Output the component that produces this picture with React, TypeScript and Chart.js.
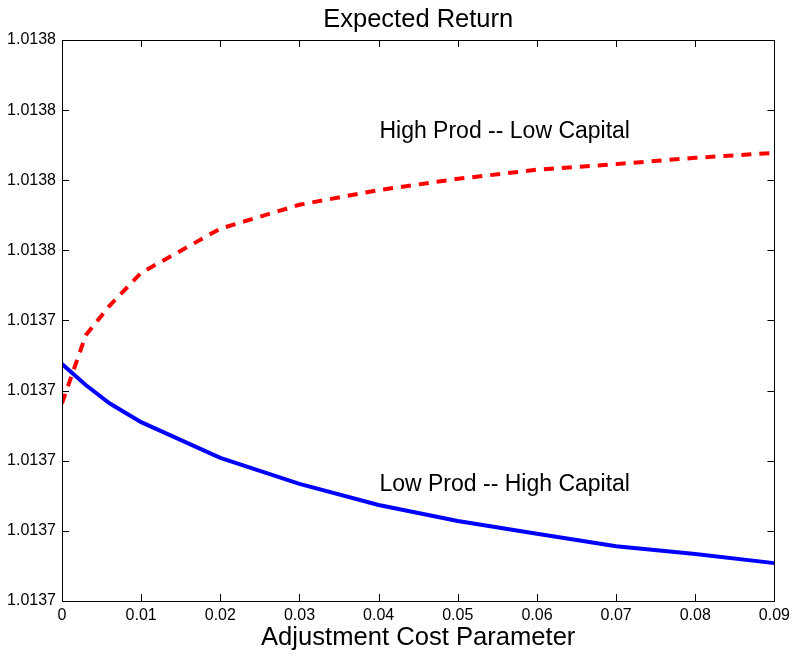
import React, { useEffect, useRef } from "react";
import { Chart, registerables } from "chart.js";

Chart.register(...registerables);

// ---- data ----
const xValues = [0, 0.003, 0.006, 0.01, 0.02, 0.03, 0.04, 0.05, 0.06, 0.07, 0.08, 0.09];
const highProdLowCapital = [
  1.0137282, 1.0137379, 1.0137421, 1.0137468, 1.0137531, 1.0137565, 1.0137586, 1.0137602,
  1.0137615, 1.0137623, 1.0137632, 1.0137639,
];
const lowProdHighCapital = [
  1.0137338, 1.0137308, 1.0137282, 1.0137255, 1.0137204, 1.0137167, 1.0137137, 1.0137114,
  1.0137096, 1.0137078, 1.0137067, 1.0137054,
];
const xTickValues = [0, 0.01, 0.02, 0.03, 0.04, 0.05, 0.06, 0.07, 0.08, 0.09];
const xTickLabels = ["0", "0.01", "0.02", "0.03", "0.04", "0.05", "0.06", "0.07", "0.08", "0.09"];
const yTickValues = [1.0137, 1.01371, 1.01372, 1.01373, 1.01374, 1.01375, 1.01376, 1.01377, 1.01378];
const yTickLabels = ["1.0137", "1.0137", "1.0137", "1.0137", "1.0137", "1.0138", "1.0138", "1.0138", "1.0138"];
const titleText = "Expected Return";
const annotationTexts = ["High Prod -- Low Capital", "Low Prod -- High Capital"];
const annotationX = [0.0401, 0.0401];
const annotationY = [1.013767, 1.0137166];

const FONT = '"Liberation Sans", Arial, Helvetica, sans-serif';

const boxPlugin = {
  id: "matlabBox",
  afterDraw(chart: any) {
    const { ctx, chartArea } = chart;
    const xs = chart.scales.x;
    const ys = chart.scales.y;
    const { left, right, top, bottom } = chartArea;
    ctx.save();
    ctx.strokeStyle = "#000";
    ctx.lineWidth = 1;
    ctx.strokeRect(Math.round(left) + 0.5, Math.round(top) + 0.5, Math.round(right - left), Math.round(bottom - top));
    const L = 7;
    ctx.beginPath();
    xTickValues.forEach((v) => {
      const px = Math.round(xs.getPixelForValue(v)) + 0.5;
      ctx.moveTo(px, bottom);
      ctx.lineTo(px, bottom - L);
      ctx.moveTo(px, top);
      ctx.lineTo(px, top + L);
    });
    yTickValues.forEach((v) => {
      const py = Math.round(ys.getPixelForValue(v)) + 0.5;
      ctx.moveTo(left, py);
      ctx.lineTo(left + L, py);
      ctx.moveTo(right, py);
      ctx.lineTo(right - L, py);
    });
    ctx.stroke();
    // title centred over the plot area
    ctx.fillStyle = "#000";
    ctx.font = `25.5px ${FONT}`;
    ctx.textAlign = "center";
    ctx.textBaseline = "alphabetic";
    ctx.fillText(titleText, (left + right) / 2, top - 13);
    ctx.restore();
  },
};

const annotationPlugin = {
  id: "textAnnotations",
  afterDatasetsDraw(chart: any) {
    const { ctx } = chart;
    const xs = chart.scales.x;
    const ys = chart.scales.y;
    ctx.save();
    ctx.fillStyle = "#000";
    ctx.font = `23px ${FONT}`;
    ctx.textAlign = "left";
    ctx.textBaseline = "middle";
    annotationTexts.forEach((t, i) => {
      ctx.fillText(t, xs.getPixelForValue(annotationX[i]), ys.getPixelForValue(annotationY[i]));
    });
    ctx.restore();
  },
};

export default function App() {
  const canvasRef = useRef<HTMLCanvasElement | null>(null);

  useEffect(() => {
    if (!canvasRef.current) return;
    const chart = new Chart(canvasRef.current, {
      type: "line",
      data: {
        datasets: [
          {
            label: "High Prod -- Low Capital",
            data: xValues.map((x, i) => ({ x, y: highProdLowCapital[i] })),
            borderColor: "#ff0000",
            borderWidth: 4,
            borderDash: [10, 8],
            pointRadius: 0,
            tension: 0,
            fill: false,
          },
          {
            label: "Low Prod -- High Capital",
            data: xValues.map((x, i) => ({ x, y: lowProdHighCapital[i] })),
            borderColor: "#0000ff",
            borderWidth: 4,
            pointRadius: 0,
            tension: 0,
            fill: false,
          },
        ],
      },
      options: {
        animation: false,
        responsive: false,
        maintainAspectRatio: false,
        layout: { padding: { left: 0, right: 19, top: 40, bottom: 0 } },
        plugins: {
          legend: { display: false },
          tooltip: { enabled: false },
          title: { display: false },
        },
        scales: {
          x: {
            type: "linear",
            min: 0,
            max: 0.09,
            grid: { display: false, drawTicks: false },
            border: { display: false },
            afterBuildTicks: (scale: any) => {
              scale.ticks = xTickValues.map((value) => ({ value }));
            },
            afterFit: (scale: any) => {
              scale.height = 55;
            },
            ticks: {
              autoSkip: false,
              maxRotation: 0,
              padding: 5,
              color: "#000",
              font: { family: FONT, size: 16 },
              callback: (_v: any, i: number) => xTickLabels[i],
            },
            title: {
              display: true,
              text: "Adjustment Cost Parameter",
              color: "#000",
              font: { family: FONT, size: 25.6 },
              padding: { top: 0, bottom: 3 },
            },
          },
          y: {
            type: "linear",
            min: 1.0137,
            max: 1.01378,
            grid: { display: false, drawTicks: false },
            border: { display: false },
            afterBuildTicks: (scale: any) => {
              scale.ticks = yTickValues.map((value) => ({ value }));
            },
            afterFit: (scale: any) => {
              scale.width = 62;
            },
            ticks: {
              autoSkip: false,
              padding: 6,
              color: "#000",
              font: { family: FONT, size: 16 },
              callback: (_v: any, i: number) => yTickLabels[i],
            },
          },
        },
      },
      plugins: [boxPlugin, annotationPlugin],
    });
    return () => chart.destroy();
  }, []);

  return (
    <div style={{ position: "fixed", left: 0, top: 0, width: 795, height: 656, background: "#fff" }}>
      <canvas ref={canvasRef} width={795} height={656} style={{ display: "block" }} />
    </div>
  );
}
